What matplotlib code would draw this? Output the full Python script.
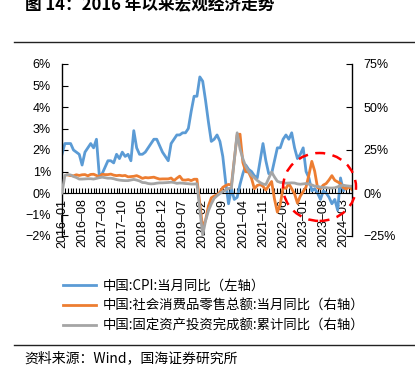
import matplotlib
matplotlib.use('Agg')
import matplotlib.pyplot as plt
import numpy as np
import pandas as pd
from matplotlib.patches import Ellipse
from matplotlib.lines import Line2D

plt.rcParams['font.family'] = ['Liberation Sans', 'Noto Sans CJK SC', 'DejaVu Sans']

# monthly data, 2016-01 .. 2024-06
months = pd.period_range('2016-01', '2024-06', freq='M')

cpi = [1.8, 2.3, 2.3, 2.3, 2.0, 1.9, 1.8, 1.3, 1.9, 2.1, 2.3, 2.1,
       2.5, 0.8, 0.9, 1.2, 1.5, 1.5, 1.4, 1.8, 1.6, 1.9, 1.7, 1.8,
       1.5, 2.9, 2.1, 1.8, 1.8, 1.9, 2.1, 2.3, 2.5, 2.5, 2.2, 1.9,
       1.7, 1.5, 2.3, 2.5, 2.7, 2.7, 2.8, 2.8, 3.0, 3.8, 4.5, 4.5,
       5.4, 5.2, 4.3, 3.3, 2.4, 2.5, 2.7, 2.4, 1.7, 0.5, -0.5, 0.2,
       -0.3, -0.2, 0.4, 0.9, 1.3, 1.1, 1.0, 0.8, 0.7, 1.5, 2.3, 1.5,
       0.9, 0.9, 1.5, 2.1, 2.1, 2.5, 2.7, 2.5, 2.8, 2.1, 1.6, 1.8,
       2.1, 1.0, 0.7, 0.1, 0.2, 0.0, -0.3, 0.1, 0.0, -0.2, -0.5, -0.3,
       -0.8, 0.7, 0.1, 0.3, 0.3, 0.2]

retail = [None, None, 10.5, 10.1, 10.0, 10.6, 10.2, 10.6, 10.7, 10.0, 10.8, 10.9,
          None, 9.5, 10.9, 10.7, 10.7, 11.0, 10.4, 10.1, 10.3, 10.0, 10.2, 9.4,
          None, 9.7, 10.1, 9.4, 8.5, 9.0, 8.8, 9.0, 9.2, 8.6, 8.1, 8.2,
          None, 8.2, 8.7, 7.2, 8.6, 9.8, 7.6, 7.5, 7.8, 7.2, 8.0, 8.0,
          None, -20.5, -15.8, -7.5, -2.8, -1.8, -1.1, 0.5, 3.3, 4.3, 5.0, 4.6,
          None, 33.8, 34.2, 17.7, 12.4, 12.1, 8.5, 2.5, 4.4, 4.9, 3.9, 1.7,
          None, 6.7, -3.5, -11.1, -6.7, 3.1, 2.7, 5.4, 2.5, -0.5, -5.9, -1.8,
          None, 3.5, 10.6, 18.4, 12.7, 3.1, 2.5, 4.6, 5.5, 7.6, 10.1, 7.4,
          None, 5.5, 3.1, 2.3, 3.7, 2.0]

fai = [0.0, 10.2, 10.7, 10.5, 9.6, 9.0, 8.1, 8.1, 8.2, 8.3, 8.3, 8.1,
       None, 8.9, 9.2, 8.9, 8.6, 8.6, 8.3, 7.8, 7.5, 7.3, 7.2, 7.2,
       None, 7.9, 7.5, 7.0, 6.1, 6.0, 5.5, 5.3, 5.4, 5.7, 5.9, 5.9,
       None, 6.1, 6.3, 6.1, 5.6, 5.8, 5.7, 5.5, 5.4, 5.2, 5.2, 5.4,
       None, -24.5, -16.1, -10.3, -6.3, -3.1, -1.6, -0.3, 0.8, 1.8, 2.6, 2.9,
       None, 35.0, 25.6, 19.9, 15.4, 12.6, 10.3, 8.9, 7.3, 6.1, 5.2, 4.9,
       None, 12.2, 9.3, 6.8, 6.2, 6.1, 5.7, 5.8, 5.9, 5.8, 5.3, 5.1,
       None, 5.5, 5.1, 4.7, 4.0, 3.8, 3.4, 3.2, 3.1, 2.9, 2.9, 3.0,
       None, 4.2, 4.5, 4.2, 4.0, 3.9]

labels = ['中国:CPI:当月同比（左轴）',
          '中国:社会消费品零售总额:当月同比（右轴）',
          '中国:固定资产投资完成额:累计同比（右轴）']
left_ticks = [-2, -1, 0, 1, 2, 3, 4, 5, 6]
left_ticklabels = ['−2%', '−1%', '0%', '1%', '2%', '3%', '4%', '5%', '6%']
right_ticks = [-25, 0, 25, 50, 75]
right_ticklabels = ['−25%', '0%', '25%', '50%', '75%']

df = pd.DataFrame({'cpi': cpi, 'retail': retail, 'fai': fai}, dtype=float)
df['x'] = np.arange(len(months))
xlabels = [p.strftime('%Y') + '–' + p.strftime('%m') for p in months]

c_blue = '#5B9BD5'
c_orange = '#ED7D31'
c_gray = '#A5A5A5'

fig = plt.figure(figsize=(4.15, 3.67), dpi=100)
ax = fig.add_axes([62/415, 131/367, 290/415, 172/367])
ax2 = ax.twinx()

s = df.dropna(subset=['cpi'])
l1, = ax.plot(s['x'], s['cpi'], color=c_blue, lw=2)
s = df.dropna(subset=['retail'])
l2, = ax2.plot(s['x'], s['retail'], color=c_orange, lw=2)
s = df.dropna(subset=['fai'])
l3, = ax2.plot(s['x'], s['fai'], color=c_gray, lw=2)

ax.set_xlim(0, len(months) - 1)
ax.set_ylim(-2, 6)
ax2.set_ylim(-25, 75)

ax.set_yticks(left_ticks)
ax.set_yticklabels(left_ticklabels)
ax2.set_yticks(right_ticks)
ax2.set_yticklabels(right_ticklabels)

ax.set_xticks(df['x'], minor=True)
ax.set_xticks(df['x'][::7])
ax.set_xticklabels(xlabels[::7])

for sp in ['top', 'right']:
    ax.spines[sp].set_visible(False)
for sp in ['top', 'bottom', 'left']:
    ax2.spines[sp].set_visible(False)
ax.spines['bottom'].set_position(('data', 0))
ax.spines['left'].set_linewidth(1)
ax2.spines['right'].set_linewidth(1)

ax.tick_params(axis='x', which='both', direction='in', length=3.5, width=0.8,
               labelsize=9, pad=4, labelrotation=90)
ax.tick_params(axis='y', direction='in', length=4, labelsize=9, pad=8)
ax2.tick_params(axis='y', direction='in', length=4, labelsize=9, pad=8)
for t in ax.get_xticklabels():
    t.set_va('top')
    t.set_ha('center')

# red dashed ellipse highlighting the recent period
ell = Ellipse((89.7, 3.5), 25.4, 39.5, fill=False, edgecolor='#FF0000',
              lw=1.8, linestyle=(0, (4, 3)), clip_on=False, zorder=5)
ax2.add_patch(ell)

fig.legend([l1, l2, l3], labels, loc='upper left',
           bbox_to_anchor=(63/415, 1 - 279/367), frameon=False,
           prop={'family': ['Noto Sans CJK SC', 'DejaVu Sans'], 'size': 9.6},
           handlelength=2.5, handletextpad=0.5, labelspacing=0.45,
           borderpad=0, borderaxespad=0)

fig.text(25/415, 1 - 5/367, '图 14：2016 年以来宏观经济走势', fontsize=12,
         fontweight='bold', va='center', ha='left',
         family=['Noto Sans CJK SC', 'DejaVu Sans'])
fig.add_artist(Line2D([14/415, 1], [1 - 42/367, 1 - 42/367], color='#222222', lw=1))
fig.add_artist(Line2D([14/415, 1], [1 - 345/367, 1 - 345/367], color='#222222', lw=1))
fig.text(24/415, 1 - 358/367, '资料来源：Wind，国海证券研究所', fontsize=10,
         va='center', ha='left', family=['Noto Sans CJK SC', 'DejaVu Sans'])

fig.savefig('out.png', dpi=100)
